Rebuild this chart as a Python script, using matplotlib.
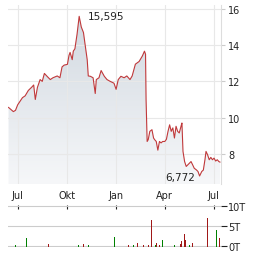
import numpy as np
import pandas as pd
import matplotlib
matplotlib.use("Agg")
import matplotlib.pyplot as plt
import matplotlib.dates as mdates

# price series
dates = ["2023-06-14", "2023-06-23", "2023-06-27", "2023-07-01", "2023-07-10", "2023-07-15",
         "2023-07-21", "2023-07-27", "2023-07-31", "2023-08-03", "2023-08-07", "2023-08-12",
         "2023-08-16", "2023-08-20", "2023-08-25", "2023-08-31", "2023-09-05", "2023-09-13",
         "2023-09-18", "2023-09-22", "2023-09-26", "2023-10-02", "2023-10-05", "2023-10-07",
         "2023-10-11", "2023-10-13", "2023-10-16", "2023-10-20", "2023-10-24", "2023-10-28",
         "2023-11-01", "2023-11-04", "2023-11-08", "2023-11-10", "2023-11-14", "2023-11-19",
         "2023-11-23", "2023-11-25", "2023-11-30", "2023-12-04", "2023-12-10", "2023-12-15",
         "2023-12-21", "2023-12-28", "2024-01-01", "2024-01-05", "2024-01-10", "2024-01-16",
         "2024-01-21", "2024-01-27", "2024-01-31", "2024-02-06", "2024-02-13", "2024-02-19",
         "2024-02-23", "2024-02-25", "2024-02-26", "2024-02-28", "2024-03-01", "2024-03-04",
         "2024-03-08", "2024-03-11", "2024-03-13", "2024-03-16", "2024-03-19", "2024-03-22",
         "2024-03-25", "2024-03-28", "2024-04-01", "2024-04-04", "2024-04-07", "2024-04-10",
         "2024-04-13", "2024-04-16", "2024-04-19", "2024-04-22", "2024-04-25", "2024-04-28",
         "2024-05-02", "2024-05-03", "2024-05-05", "2024-05-08", "2024-05-11", "2024-05-14",
         "2024-05-17", "2024-05-20", "2024-05-23", "2024-05-26", "2024-05-30", "2024-06-02",
         "2024-06-05", "2024-06-09", "2024-06-12", "2024-06-15", "2024-06-17", "2024-06-20",
         "2024-06-23", "2024-06-26", "2024-06-29", "2024-07-02", "2024-07-05", "2024-07-08",
         "2024-07-11", "2024-07-13"]
prices = [10.56, 10.33, 10.40, 10.70, 11.10, 11.20,
          11.50, 11.67, 11.80, 11.00, 11.67, 12.10,
          12.00, 12.44, 12.28, 12.10, 12.20, 12.30,
          12.20, 12.80, 12.90, 12.94, 13.44, 13.60,
          13.20, 13.67, 13.80, 14.60, 15.595, 15.00,
          14.70, 14.05, 13.20, 12.30, 12.28, 12.20,
          11.33, 12.10, 12.20, 12.60, 12.28, 12.10,
          12.00, 11.90, 11.56, 12.10, 12.28, 12.20,
          12.30, 12.10, 12.30, 12.95, 13.10, 13.40,
          13.67, 13.50, 11.00, 8.68, 8.78, 9.24,
          9.33, 8.87, 8.78, 8.68, 8.20, 8.68,
          8.60, 8.68, 8.68, 8.80, 9.24, 9.60,
          9.24, 9.43, 8.87, 9.52, 9.24, 9.15,
          9.60, 9.70, 8.13, 7.57, 7.30, 7.39,
          7.48, 7.57, 7.39, 7.20, 7.11, 7.02,
          6.772, 7.02, 7.10, 7.67, 8.13, 7.94,
          7.67, 7.80, 7.67, 7.76, 7.60, 7.67,
          7.57, 7.54]

# volume bars (thousands)
vol_dates = ["2023-06-26", "2023-07-16", "2023-08-26", "2023-10-21", "2023-11-01", "2023-11-10",
             "2023-12-29", "2024-01-24", "2024-02-02", "2024-02-09", "2024-02-20", "2024-02-29",
             "2024-03-07", "2024-03-13", "2024-03-15", "2024-03-22", "2024-03-26", "2024-04-18",
             "2024-04-29", "2024-05-02", "2024-05-06", "2024-05-09", "2024-05-16", "2024-05-22",
             "2024-06-19", "2024-07-05", "2024-07-11"]
volumes = [0.4, 2.1, 0.6, 0.4, 0.6, 0.4,
           2.4, 0.3, 0.3, 0.8, 0.3, 0.3,
           6.4, 0.3, 0.9, 0.3, 1.6, 0.3,
           0.5, 1.2, 3.1, 1.6, 0.3, 0.8,
           7.0, 4.1, 2.0]
vol_up = [1, 1, 0, 1, 0, 1,
          1, 0, 1, 0, 0, 0,
          0, 1, 0, 0, 1, 1,
          0, 0, 0, 0, 1, 0,
          0, 1, 0]

tick_dates = ["2023-07-01", "2023-10-01", "2024-01-01", "2024-04-01", "2024-07-01"]
tick_labels = ["Jul", "Okt", "Jan", "Apr", "Jul"]

d = pd.to_datetime(dates)
vd = pd.to_datetime(vol_dates)
td = pd.to_datetime(tick_dates)
x0, x1 = pd.Timestamp("2023-06-13"), pd.Timestamp("2024-07-15")

W, H = 264, 255
fig = plt.figure(figsize=(W / 100, H / 100), dpi=100)
ax = fig.add_axes([8 / W, 1 - 185 / H, 213 / W, 179 / H])
axv = fig.add_axes([8 / W, 1 - 248 / H, 213 / W, 42 / H])

grid_c = "#e8e8e8"
line_c = "#c0393b"

# main price chart
ymin, ymax = 6.33, 16.22
ax.set_xlim(x0, x1)
ax.set_ylim(ymin, ymax)
fill = ax.fill_between(d, prices, ymin, color="none")
grad = np.linspace(0, 1, 256).reshape(-1, 1)
cmap = matplotlib.colors.LinearSegmentedColormap.from_list("g", ["#f6f7f9", "#cfd7df"])
img = ax.imshow(grad, cmap=cmap, aspect="auto", origin="lower",
                extent=[mdates.date2num(x0), mdates.date2num(x1), ymin, ymax], zorder=1)
img.set_clip_path(fill.get_paths()[0], transform=ax.transData)
ax.plot(d, prices, color=line_c, lw=0.8, zorder=3)
ax.set_xlim(x0, x1)

ax.set_xticks(td)
ax.set_xticklabels(tick_labels)
ax.set_yticks([8, 10, 12, 14, 16])
ax.yaxis.tick_right()
ax.tick_params(axis="y", length=3, color="#cccccc", pad=2, labelsize=7, labelcolor="#222222")
ax.tick_params(axis="x", length=0, pad=4, labelsize=7, labelcolor="#222222")
ax.grid(True, color=grid_c, lw=0.8, zorder=0)
for s in ["top", "left", "bottom"]:
    ax.spines[s].set_visible(False)
ax.spines["right"].set_color("#dddddd")
ax.spines["right"].set_linewidth(0.8)

ax.annotate("15,595", (d[28], 15.595), xytext=(6, 0), textcoords="offset points",
            fontsize=7.5, color="#222222", va="center", ha="left")
ax.annotate("6,772", (d[90], 6.772), xytext=(-3, -1), textcoords="offset points",
            fontsize=7.5, color="#222222", va="center", ha="right")

# volume chart
colors = ["#008000" if u else "#a01818" for u in vol_up]
axv.vlines(vd, 0, volumes, colors=colors, lw=0.72, antialiased=False, zorder=3)
axv.set_xlim(x0, x1)
axv.set_ylim(-0.15, 10.15)
axv.set_yticks([0, 5, 10])
axv.set_yticklabels(["0T", "5T", "10T"])
axv.yaxis.tick_right()
axv.tick_params(axis="y", length=4, width=0.8, color="#222222", pad=1, labelsize=7,
                labelcolor="#222222")
axv.set_xticks(td)
axv.tick_params(axis="x", direction="in", length=3, width=0.8, color="#222222",
                labelbottom=False, top=True, bottom=False)
axv.grid(True, axis="y", color="#cccccc", lw=0.8, zorder=0)
for s in axv.spines.values():
    s.set_visible(False)

fig.savefig("out.png", dpi=100)
